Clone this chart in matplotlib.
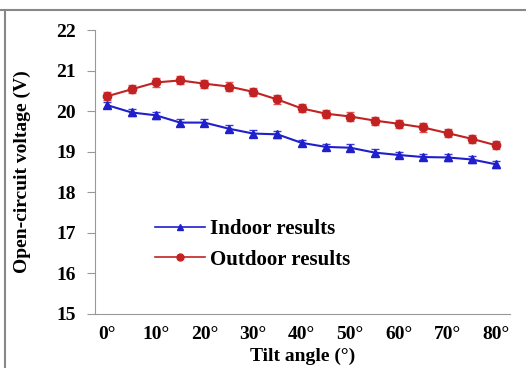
import matplotlib.pyplot as plt
from matplotlib.lines import Line2D

# data
angles = [0, 5, 10, 15, 20, 25, 30, 35, 40, 45, 50, 55, 60, 65, 70, 75, 80]
indoor = [20.15, 19.97, 19.90, 19.72, 19.72, 19.57, 19.45, 19.43, 19.22, 19.12,
          19.10, 18.98, 18.92, 18.87, 18.86, 18.81, 18.69]
outdoor = [20.37, 20.54, 20.71, 20.76, 20.68, 20.61, 20.48, 20.29, 20.07, 19.94,
           19.87, 19.77, 19.69, 19.60, 19.46, 19.32, 19.16]
indoor_err = [0.08] * len(angles)
outdoor_err = [0.1] * len(angles)
xtick_pos = [0, 10, 20, 30, 40, 50, 60, 70, 80]
xtick_labels = ["0°", "10°", "20°", "30°", "40°", "50°", "60°", "70°", "80°"]

blue = '#1f1fcc'
red = '#c22222'

plt.rcParams['font.family'] = ['Liberation Serif', 'DejaVu Serif']
plt.rcParams['font.weight'] = 'bold'

fig = plt.figure(figsize=(5.26, 3.68), dpi=100)
ax = fig.add_axes([0.181, 0.147, 0.789, 0.771])

# error bars first, lines with markers on top
ax.errorbar(angles, indoor, yerr=indoor_err, fmt='none', ecolor='#3a3ae0',
            capsize=3, elinewidth=1.2)
ax.errorbar(angles, outdoor, yerr=outdoor_err, fmt='none', ecolor='#e05555',
            capsize=3, elinewidth=1.2)
ax.plot(angles, indoor, color=blue, marker='^', markersize=6, linewidth=1.5)
ax.plot(angles, outdoor, color=red, marker='o', markersize=6, linewidth=1.5)

ax.set_xlim(-2.47, 82.9)
ax.set_ylim(15, 22)
ax.set_yticks(range(15, 23))
ax.set_xticks(xtick_pos)
ax.set_xticklabels(xtick_labels)
ax.tick_params(axis='x', length=0, labelsize=14, pad=9)
ax.tick_params(axis='y', length=6, labelsize=14, color='#999999', direction='out', pad=8)

for s in ['top', 'right']:
    ax.spines[s].set_visible(False)
ax.spines['left'].set_color('#999999')
ax.spines['bottom'].set_color('#999999')

ax.set_xlabel('Tilt angle (°)', fontsize=14, fontweight='bold', labelpad=3)
ax.set_ylabel('Open-circuit voltage (V)', fontsize=14, fontweight='bold')
ax.yaxis.set_label_coords(-0.155, 0.5)

handles = [Line2D([], [], color=blue, marker='^', markersize=5, linewidth=1.2),
           Line2D([], [], color=red, marker='o', markersize=5, linewidth=1.2)]
ax.legend(handles, ['Indoor results', 'Outdoor results'], loc='lower left',
          bbox_to_anchor=(0.1, 0.09), frameon=False,
          prop={'size': 15, 'weight': 'bold'}, handlelength=2.4,
          handletextpad=0.2, labelspacing=0.5)

# frame lines along the top and left of the picture
fig.add_artist(Line2D([0, 1], [1 - 10 / 368, 1 - 10 / 368], transform=fig.transFigure,
                      color='#888888', linewidth=1.5))
fig.add_artist(Line2D([5 / 526, 5 / 526], [0, 1 - 10 / 368], transform=fig.transFigure,
                      color='#888888', linewidth=1.5))

fig.savefig('out.png', dpi=100)
